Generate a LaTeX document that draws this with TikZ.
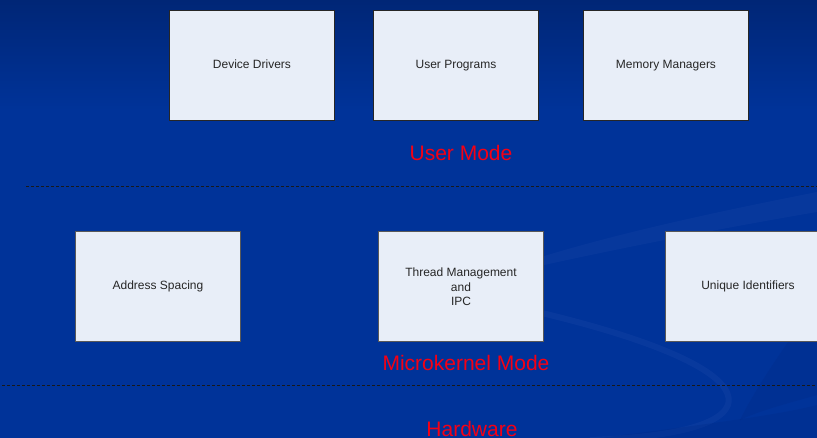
\documentclass[tikz,border=0pt]{standalone}
\usepackage{fontspec}
\setmainfont{Liberation Sans}
\begin{document}
\begin{tikzpicture}[x=1pt,y=-1pt,
  box/.style={draw=black!85,line width=1pt,fill=boxfill,minimum width=165pt,minimum height=110pt,inner sep=0pt,
    font=\fontsize{12}{14.5}\selectfont,align=center,text=black!85},
  mode/.style={text=modered,font=\fontsize{21}{24}\selectfont,inner sep=0pt},
  sep/.style={dashed,dash pattern=on 3pt off 2pt,line width=1pt,draw=black!90}]
\definecolor{bgblue}{RGB}{0,51,153}
\definecolor{bgtop}{RGB}{0,38,118}
\definecolor{swoosh}{RGB}{40,80,175}
\definecolor{swooshdark}{RGB}{0,40,130}
\definecolor{boxfill}{RGB}{232,238,248}
\definecolor{modered}{RGB}{245,0,20}
\useasboundingbox (0,0) rectangle (817,438);
% background
\fill[bgblue] (0,0) rectangle (817,438);
\shade[top color=bgtop,bottom color=bgblue] (0,0) rectangle (817,110);
% swooshes
\fill[swoosh,opacity=0.18] (470,282) .. controls (560,245) and (700,215) .. (817,192)
  -- (817,212) .. controls (700,232) and (570,258) .. (470,282) -- cycle;
\draw[swoosh,opacity=0.22,line width=6pt] (430,290) .. controls (600,320) and (740,365) .. (728,405)
  .. controls (718,430) and (650,438) .. (590,440);
\fill[swooshdark,opacity=0.25] (817,300) .. controls (790,340) and (760,380) .. (740,420)
  .. controls (760,410) and (800,400) .. (817,395) -- cycle;
\fill[swooshdark,opacity=0.25] (600,438) .. controls (700,425) and (780,415) .. (817,405) -- (817,438) -- cycle;
% boxes
\node[box] (dd) at (252,66) {\strut Device Drivers};
\node[box] (up) at (456,66) {\strut User Programs};
\node[box] (mm) at (666,66) {\strut Memory Managers};
\node[box,draw=black!65] (as) at (158,287) {\strut Address Spacing};
\node[box,draw=black!65] (tm) at (461,287) {Thread Management\\and\\IPC};
\node[box,draw=black!65] (ui) at (748,287) {\strut Unique Identifiers};
% separators
\coordinate (s1a) at (26,186.5);
\coordinate (s1b) at (817,186.5);
\coordinate (s2a) at (2,385.5);
\coordinate (s2b) at (817,385.5);
\draw[sep] (s1a) -- (s1b);
\draw[sep] (s2a) -- (s2b);
% mode labels
\node[mode] (um) at (461,153) {User Mode};
\node[mode] (km) at (466,363) {Microkernel Mode};
\node[mode] (hw) at (472,429) {Hardware};
\end{tikzpicture}
\end{document}
